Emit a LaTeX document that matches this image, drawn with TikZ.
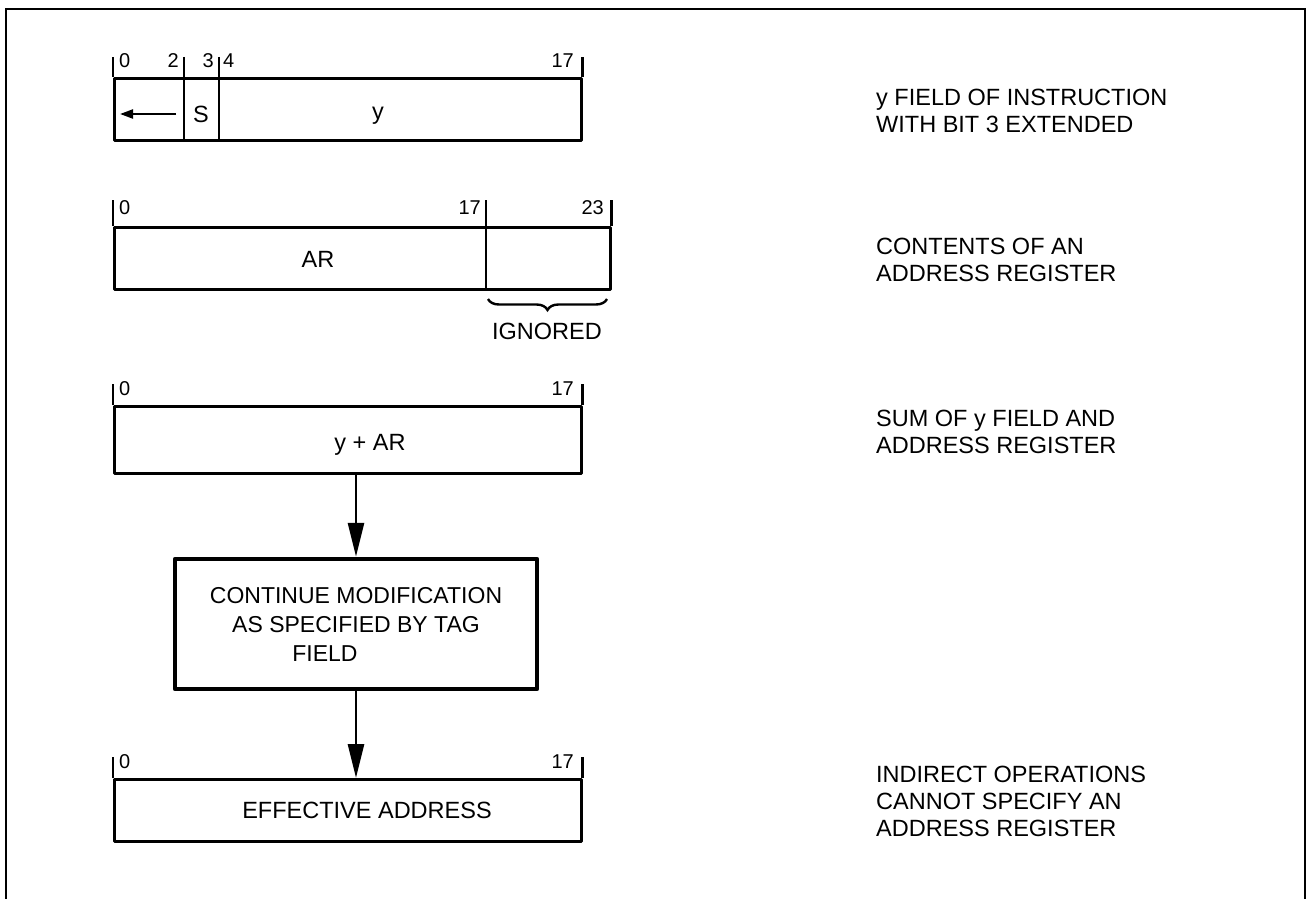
\documentclass[tikz,border=0pt]{standalone}
\usepackage{fontspec}
\setmainfont{Liberation Sans}
\usetikzlibrary{arrows.meta,decorations.pathreplacing}
\begin{document}
\begin{tikzpicture}[x=1pt,y=-1pt,
  reg/.style={draw, line width=2.8pt, line join=round, inner sep=0pt, anchor=north west},
  tick/.style={line width=2.8pt},
  bit/.style={font=\fontsize{20}{20}\selectfont, inner sep=0pt},
  txt/.style={font=\fontsize{23.5}{27}\selectfont, inner sep=0pt},
  lbl/.style={font=\fontsize{23.5}{27}\selectfont, align=left, anchor=north west, inner sep=0pt},
  flow/.style={line width=2.8pt, -{Triangle[length=34pt,width=16pt]}},
  stepbox/.style={draw, line width=4.5pt, line join=round, inner sep=0pt, minimum width=362pt, minimum height=130pt, align=center, font=\fontsize{23}{29}\selectfont},
  bracestyle/.style={line width=2.4pt, decorate, decoration={brace, mirror, amplitude=11pt}}
]
\useasboundingbox (0,0) rectangle (1310,899);
% frame
\draw[line width=2pt] (6,899) -- (6,9) -- (1305,9) -- (1305,899);

% register 1
\node[reg, minimum width=467pt, minimum height=62pt] (r1) at (113,77) {};
\draw[tick] (r1.north west) -- ++(0,-20);
\draw[tick] (r1.north east) -- ++(0,-20);
\draw[tick] (184,57) -- (184,139);
\draw[tick] (219,57) -- (219,139);
\node[bit, anchor=base west] (b10) at (119,67) {0};
\node[bit, anchor=base east] (b12) at (179,67) {2};
\node[bit, anchor=base east] (b13) at (214,67) {3};
\node[bit, anchor=base west] (b14) at (223,67) {4};
\node[bit, anchor=base east] (b117) at (574,67) {17};
\coordinate (ea) at (176,114);
\coordinate (eb) at (120,114);
\draw[line width=2.2pt, -{Triangle[length=13pt,width=9pt]}] (ea) -- (eb);
\node[txt, anchor=base] (s1) at (201,122) {S};
\node[txt, anchor=base] (y1) at (378,120) {y};

% register 2
\node[reg, minimum width=496pt, minimum height=62pt] (r2) at (113,226) {};
\draw[tick] (r2.north west) -- ++(0,-26);
\draw[tick] (r2.north east) -- ++(0,-26);
\draw[tick] (486,200) -- (486,288);
\node[bit, anchor=base west] (b20) at (119,214) {0};
\node[bit, anchor=base east] (b217) at (481,214) {17};
\node[bit, anchor=base east] (b223) at (604,214) {23};
\node[txt, anchor=base] (ar) at (318,267) {AR};
\coordinate (bra) at (488,299);
\coordinate (brb) at (607,299);
\draw[bracestyle] (bra) -- (brb);
\node[txt] (ign) at (547,331) {IGNORED};

% register 3
\node[reg, minimum width=467pt, minimum height=67pt] (r3) at (113,405) {};
\draw[tick] (r3.north west) -- ++(0,-21);
\draw[tick] (r3.north east) -- ++(0,-21);
\node[bit, anchor=base west] (b30) at (119,395) {0};
\node[bit, anchor=base east] (b317) at (574,395) {17};
\node[txt, anchor=base] (yar) at (370,450) {y + AR};

% box
\node[stepbox] (box) at (356,624) {CONTINUE MODIFICATION\\AS SPECIFIED BY TAG\hspace*{26pt}\\FIELD\hspace*{62pt}};

% register 4
\node[reg, minimum width=467pt, minimum height=62pt] (r4) at (113,778) {};
\draw[tick] (r4.north west) -- ++(0,-21);
\draw[tick] (r4.north east) -- ++(0,-21);
\node[bit, anchor=base west] (b40) at (119,768) {0};
\node[bit, anchor=base east] (b417) at (574,768) {17};
\node[txt, anchor=base] (ea4) at (367,818) {EFFECTIVE ADDRESS};

% connectors
\draw[flow] (box.north |- r3.south) -- (box.north);
\draw[flow] (box.south) -- (box.south |- r4.north);

% right labels
\node[lbl] (l1) at (876,88.5) {y FIELD OF INSTRUCTION\\WITH BIT 3 EXTENDED};
\node[lbl] (l2) at (876,237.5) {CONTENTS OF AN\\ADDRESS REGISTER};
\node[lbl] (l3) at (876,409.5) {SUM OF y FIELD AND\\ADDRESS REGISTER};
\node[lbl] (l4) at (876,765.5) {INDIRECT OPERATIONS\\CANNOT SPECIFY AN\\ADDRESS REGISTER};
\end{tikzpicture}
\end{document}
